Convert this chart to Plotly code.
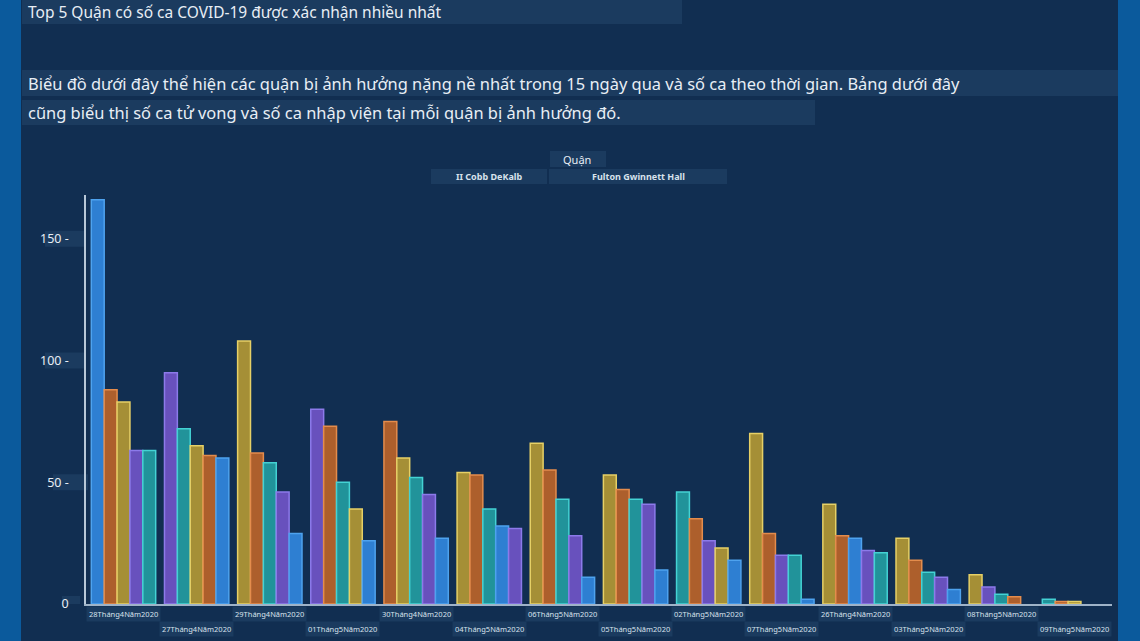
import plotly.graph_objects as go

dates = ["28Tháng4Năm2020", "27Tháng4Năm2020", "29Tháng4Năm2020", "01Tháng5Năm2020",
         "30Tháng4Năm2020", "04Tháng5Năm2020", "06Tháng5Năm2020", "05Tháng5Năm2020",
         "02Tháng5Năm2020", "07Tháng5Năm2020", "26Tháng4Năm2020", "03Tháng5Năm2020",
         "08Tháng5Năm2020", "09Tháng5Năm2020"]

counties = ["Cobb", "DeKalb", "Fulton", "Gwinnett", "Hall"]
cobb     = [166, 60, 29, 26, 27, 32, 11, 14, 18, 2, 27, 6, 0, 0]
dekalb   = [88, 61, 62, 73, 75, 53, 55, 47, 35, 29, 28, 18, 3, 1]
fulton   = [83, 65, 108, 39, 60, 54, 66, 53, 23, 70, 41, 27, 12, 1]
gwinnett = [63, 95, 46, 80, 45, 31, 28, 41, 26, 20, 22, 11, 7, 0]
hall     = [63, 72, 58, 50, 52, 39, 43, 43, 46, 20, 21, 13, 4, 2]

y_tickvals = [0, 50, 100, 150]
y_ticktext = ["0", "50 -", "100 -", "150 -"]

fill_colors = {"Cobb": "#2e7fd2", "DeKalb": "#ad5f2c", "Fulton": "#a58f36",
               "Gwinnett": "#6851bd", "Hall": "#21939a"}
line_colors = {"Cobb": "#4ea2ee", "DeKalb": "#e48c4c", "Fulton": "#e6d066",
               "Gwinnett": "#8c7aea", "Hall": "#44d2d4"}

series = {"Cobb": cobb, "DeKalb": dekalb, "Fulton": fulton, "Gwinnett": gwinnett, "Hall": hall}

BG = "#112e51"
SIDE = "#0b5a9c"
BOX = "#1b3b5f"
TXT = "#e8eef5"

fig = go.Figure()

# one trace per rank within each day: bars sorted descending inside each group
ranked = []
for i in range(len(dates)):
    vals = [(series[c][i], c) for c in counties]
    vals.sort(key=lambda t: -t[0])
    ranked.append(vals)

for k in range(len(counties)):
    ys, fc, lc, names = [], [], [], []
    for i in range(len(dates)):
        v, c = ranked[i][k]
        ys.append(v if v > 0 else None)
        fc.append(fill_colors[c])
        lc.append(line_colors[c])
        names.append(c)
    fig.add_trace(go.Bar(
        x=dates, y=ys, customdata=names,
        marker=dict(color=fc, line=dict(color=lc, width=1.5)),
        hovertemplate="%{customdata}: %{y}<extra></extra>",
        showlegend=False,
    ))

fig.update_layout(
    width=1140, height=641,
    paper_bgcolor=BG, plot_bgcolor=BG,
    margin=dict(l=86, r=28, t=195, b=37),
    barmode="group", bargap=0.12, bargroupgap=0,
    font=dict(family="Noto Sans", color=TXT),
    showlegend=False,
)
fig.update_xaxes(type="category", showticklabels=False, showgrid=False, zeroline=False,
                 showline=True, linecolor="#9fb3c8", linewidth=1.5, ticks="")
fig.update_yaxes(range=[0, 168], tickvals=y_tickvals, ticktext=y_ticktext, showgrid=False,
                 zeroline=False, showline=True, linecolor="#b8c8d8", linewidth=1.5, ticks="",
                 tickfont=dict(size=12.5, color=TXT), ticklabelstandoff=13)

H = 409.0
W = 1026.0
def px(xpix):
    return (xpix - 86) / W
def py(ypix):
    return (604 - ypix) / H

shapes = [
    # side strips
    dict(type="rect", xref="paper", yref="paper", x0=px(0), x1=px(21), y0=py(700), y1=py(-50),
         fillcolor=SIDE, line_width=0, layer="below"),
    dict(type="rect", xref="paper", yref="paper", x0=px(1118), x1=px(1150), y0=py(700), y1=py(-50),
         fillcolor=SIDE, line_width=0, layer="below"),
]

# header texts with boxes
boxes = [
    (22, 682, 0, 24), (22, 1118, 70, 96), (22, 815, 100, 125),
    (550, 606, 151, 167), (431, 547, 169, 184), (549, 727, 169, 184),
]
for x0, x1, y0, y1 in boxes:
    shapes.append(dict(type="rect", xref="paper", yref="paper", x0=px(x0), x1=px(x1),
                       y0=py(y1), y1=py(y0), fillcolor=BOX, line_width=0, layer="below"))

# subtle boxes behind the y tick labels
tick_box_x = {0: (62, 80), 50: (53, 88), 100: (45, 85), 150: (45, 85)}
for v in y_tickvals:
    x0, x1 = tick_box_x[v]
    shapes.append(dict(type="rect", xref="paper", yref="y", ysizemode="pixel", yanchor=v,
                       x0=px(x0), x1=px(x1), y0=-8, y1=8, fillcolor=BOX, line_width=0,
                       layer="below"))
fig.update_layout(shapes=shapes)

ann = []
ann.append(dict(text="Top 5 Quận có số ca COVID-19 được xác nhận nhiều nhất", x=px(26), y=py(12),
                xanchor="left", yanchor="middle", font=dict(size=15.5, color=TXT)))
ann.append(dict(text="Biểu đồ dưới đây thể hiện các quận bị ảnh hưởng nặng nề nhất trong 15 ngày qua và số ca theo thời gian. Bảng dưới đây",
                x=px(26), y=py(83), xanchor="left", yanchor="middle", font=dict(size=16.45, color=TXT)))
ann.append(dict(text="cũng biểu thị số ca tử vong và số ca nhập viện tại mỗi quận bị ảnh hưởng đó.",
                x=px(26), y=py(112), xanchor="left", yanchor="middle", font=dict(size=16.45, color=TXT)))
ann.append(dict(text="Quận", x=px(577), y=py(159), xanchor="center", yanchor="middle",
                font=dict(size=11, color=TXT)))
ann.append(dict(text="<b>II Cobb DeKalb</b>", x=px(489), y=py(176.5), xanchor="center", yanchor="middle",
                font=dict(size=9, color="#d8e2ec")))
ann.append(dict(text="<b>Fulton Gwinnett Hall</b>", x=px(638), y=py(176.5), xanchor="center", yanchor="middle",
                font=dict(size=9, color="#d8e2ec")))

for i, d in enumerate(dates):
    ann.append(dict(text=d, x=d, xref="x", yref="paper", y=-(10 if i % 2 == 0 else 25) / H,
                    xanchor="center", yanchor="middle", showarrow=False,
                    bgcolor=BOX, borderpad=2, font=dict(size=7.5, color="#d8e2ec")))

for a in ann:
    a.setdefault("xref", "paper")
    a.setdefault("yref", "paper")
    a.setdefault("showarrow", False)
fig.update_layout(annotations=ann)

fig.write_html("out.html", config={"displayModeBar": False},
               post_script="document.body.style.margin='0';document.body.style.background='%s';" % BG)
